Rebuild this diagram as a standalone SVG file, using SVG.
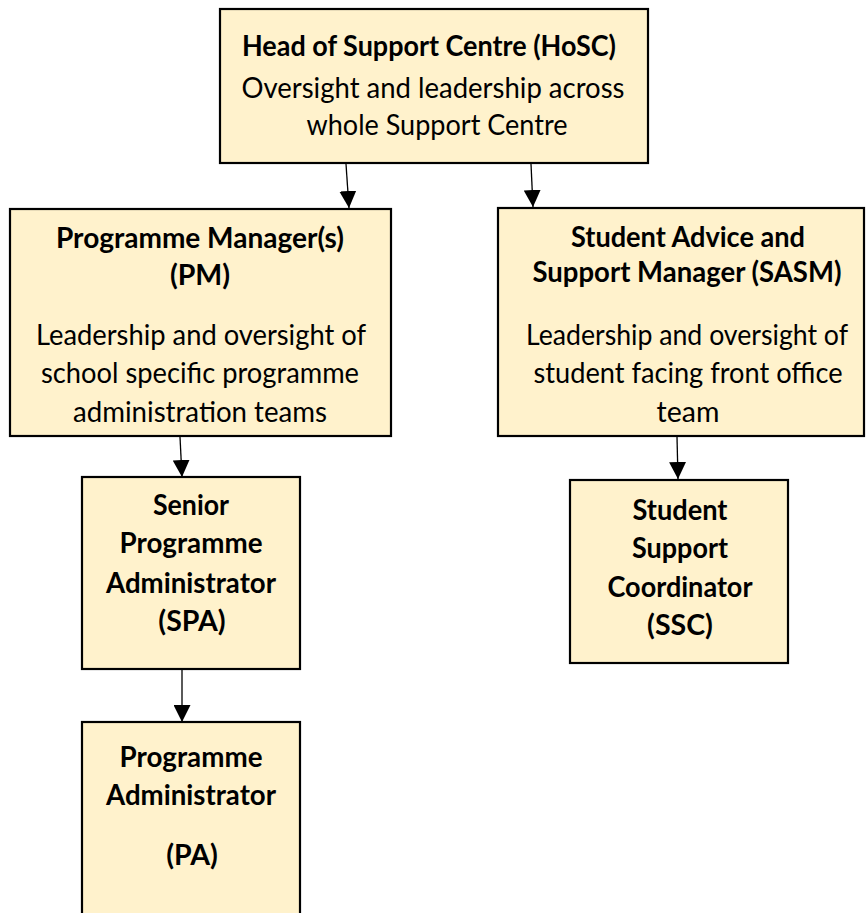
<svg xmlns="http://www.w3.org/2000/svg" width="867" height="913" viewBox="0 0 867 913">
<defs>
<marker id="arr" markerUnits="userSpaceOnUse" markerWidth="17" markerHeight="17" viewBox="0 0 17 17" refX="17" refY="8.5" orient="auto">
<path d="M0,0 L17,8.5 L0,17 Z" fill="#000"/>
</marker>
<style>
.box{fill:#FFF2CC;stroke:#000;stroke-width:2.2}
.t{font-family:Lato,"Liberation Sans",sans-serif;font-size:28.5px;fill:#000;text-anchor:middle}
.b{font-weight:bold}
.c{stroke:#000;stroke-width:1.3;fill:none;marker-end:url(#arr)}
</style>
</defs>
<rect width="867" height="913" fill="#fff"/>
<g id="connectors">
<line class="c" x1="346" y1="164" x2="349" y2="208"/>
<line class="c" x1="531" y1="164" x2="533" y2="207"/>
<line class="c" x1="180" y1="437" x2="182" y2="477"/>
<line class="c" x1="677" y1="437" x2="678" y2="479"/>
<line class="c" x1="182" y1="670" x2="182" y2="722"/>
</g>
<g id="hosc">
<rect class="box" x="220" y="9" width="428" height="154"/>
<text class="t b" x="429" y="56" textLength="374" lengthAdjust="spacingAndGlyphs">Head of Support Centre (HoSC)</text>
<text class="t" x="433" y="98" textLength="383" lengthAdjust="spacingAndGlyphs">Oversight and leadership across</text>
<text class="t" x="437" y="135" textLength="261" lengthAdjust="spacingAndGlyphs">whole Support Centre</text>
</g>
<g id="pm">
<rect class="box" x="10" y="209" width="381" height="227"/>
<text class="t b" x="200" y="248" textLength="288" lengthAdjust="spacingAndGlyphs">Programme Manager(s)</text>
<text class="t b" x="200" y="285">(PM)</text>
<text class="t" x="201" y="345" textLength="330" lengthAdjust="spacingAndGlyphs">Leadership and oversight of</text>
<text class="t" x="200" y="383" textLength="318" lengthAdjust="spacingAndGlyphs">school specific programme</text>
<text class="t" x="200" y="422" textLength="254" lengthAdjust="spacingAndGlyphs">administration teams</text>
</g>
<g id="sasm">
<rect class="box" x="498" y="208" width="366" height="228"/>
<text class="t b" x="688" y="247" textLength="234" lengthAdjust="spacingAndGlyphs">Student Advice and</text>
<text class="t b" x="687" y="282" textLength="309" lengthAdjust="spacingAndGlyphs">Support Manager (SASM)</text>
<text class="t" x="687" y="345" textLength="322" lengthAdjust="spacingAndGlyphs">Leadership and oversight of</text>
<text class="t" x="688" y="383" textLength="309" lengthAdjust="spacingAndGlyphs">student facing front office</text>
<text class="t" x="688" y="422">team</text>
</g>
<g id="spa">
<rect class="box" x="82" y="477" width="218" height="192"/>
<text class="t b" x="191" y="515" textLength="76" lengthAdjust="spacingAndGlyphs">Senior</text>
<text class="t b" x="191" y="553" textLength="143" lengthAdjust="spacingAndGlyphs">Programme</text>
<text class="t b" x="191" y="593" textLength="170" lengthAdjust="spacingAndGlyphs">Administrator</text>
<text class="t b" x="192" y="631">(SPA)</text>
</g>
<g id="pa">
<rect class="box" x="82" y="722" width="218" height="200"/>
<text class="t b" x="191" y="767" textLength="143" lengthAdjust="spacingAndGlyphs">Programme</text>
<text class="t b" x="191" y="805" textLength="170" lengthAdjust="spacingAndGlyphs">Administrator</text>
<text class="t b" x="192" y="865">(PA)</text>
</g>
<g id="ssc">
<rect class="box" x="570" y="480" width="218" height="183"/>
<text class="t b" x="680" y="520" textLength="95" lengthAdjust="spacingAndGlyphs">Student</text>
<text class="t b" x="680" y="558" textLength="96" lengthAdjust="spacingAndGlyphs">Support</text>
<text class="t b" x="680" y="597" textLength="145" lengthAdjust="spacingAndGlyphs">Coordinator</text>
<text class="t b" x="680" y="635">(SSC)</text>
</g>
</svg>
